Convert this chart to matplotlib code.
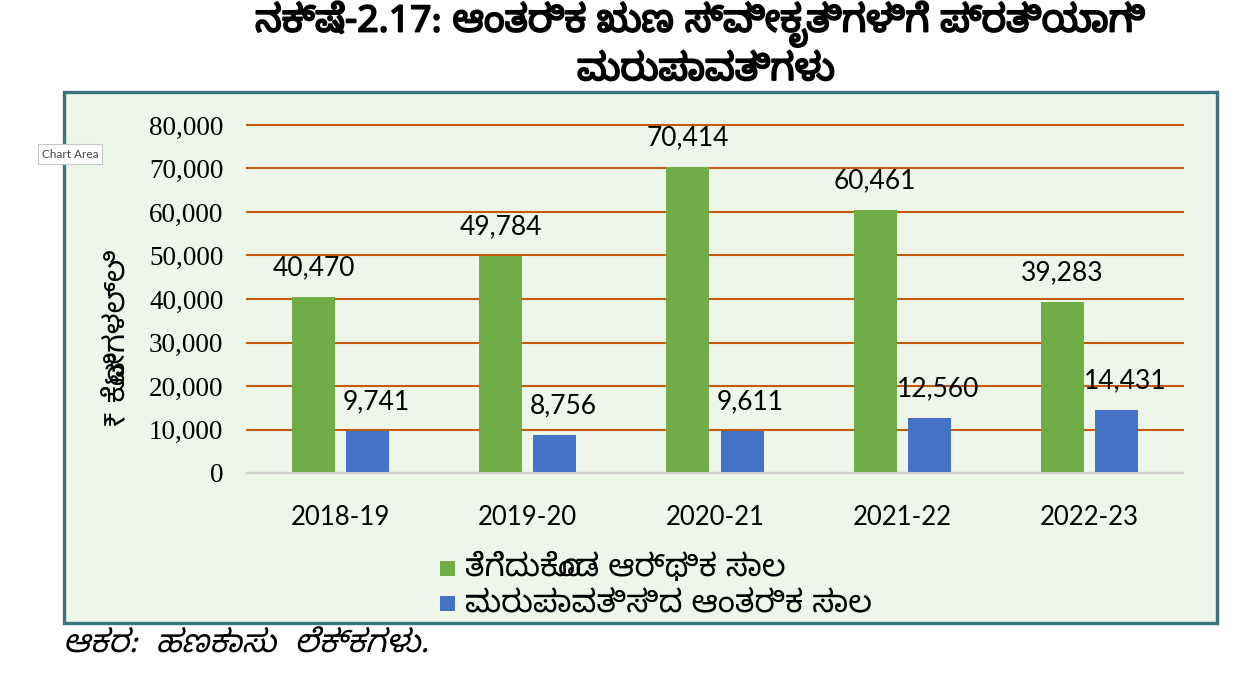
import matplotlib
matplotlib.use("Agg")
import matplotlib.pyplot as plt
import matplotlib.patheffects as pe
import matplotlib.transforms as mtransforms
from matplotlib.patches import Rectangle, PathPatch
from matplotlib.textpath import TextPath
from matplotlib.font_manager import FontProperties
import numpy as np

# Data
years = ["2018-19", "2019-20", "2020-21", "2021-22", "2022-23"]
borrowed = [40470, 49784, 70414, 60461, 39283]
repaid = [9741, 8756, 9611, 12560, 14431]
y_ticks = [0, 10000, 20000, 30000, 40000, 50000, 60000, 70000, 80000]

title_1 = "ನಕ್ಷೆ-2.17: ಆಂತರಿಕ ಋಣ ಸ್ವೀಕೃತಿಗಳಿಗೆ ಪ್ರತಿಯಾಗಿ"
title_2 = "ಮರುಪಾವತಿಗಳು"
y_label = "₹ ಕೋಟಿಗಳಲ್ಲಿ"
legend_labels = ["ತೆಗೆದುಕೊಂಡ ಆರ್ಥಿಕ ಸಾಲ", "ಮರುಪಾವತಿಸಿದ ಆಂತರಿಕ ಸಾಲ"]
source = "ಆಕರ:  ಹಣಕಾಸು  ಲೆಕ್ಕಗಳು."

kn = ["Noto Sans Kannada", "Lato", "DejaVu Sans"]

green = "#70AD47"
blue = "#4472C4"
grid_c = "#C55A11"
bg = "#EEF5E9"

W, H = 1241, 679
fig = plt.figure(figsize=(W / 100, H / 100), dpi=100)
fig.patch.set_facecolor("white")


def fx(px):
    return px / W


def fy(py):
    # pixel row from the top -> figure fraction
    return 1 - py / H


# chart area frame, drawn behind the axes
frame = Rectangle((fx(64), fy(623)), fx(1153), 531 / H, transform=fig.transFigure,
                  facecolor=bg, edgecolor="#3A7480", linewidth=2.4, zorder=-1)
fig.patches.append(frame)

ax = fig.add_axes([fx(247), fy(473), fx(936), 348 / H])
ax.set_facecolor("none")

x = np.arange(len(years))
w = 0.23
off = 0.145
b1 = ax.bar(x - off, borrowed, w, color=green, zorder=3)
b2 = ax.bar(x + off, repaid, w, color=blue, zorder=3)

for xi, v in zip(x, borrowed):
    ax.annotate(f"{v:,}", (xi - off, v), xytext=(0, 21), textcoords="offset points",
                ha="center", va="center", fontsize=19, family="Lato")
for xi, v in zip(x, repaid):
    ax.annotate(f"{v:,}", (xi + off, v), xytext=(6, 21), textcoords="offset points",
                ha="center", va="center", fontsize=19, family="Lato")

ax.set_xlim(-0.5, len(years) - 0.5)
ax.set_ylim(0, 80000)
ax.set_yticks(y_ticks)
ax.set_yticklabels([f"{t:,}" for t in y_ticks], family="Liberation Serif", fontsize=19.5)
ax.set_xticks(x)
ax.set_xticklabels(years, family="Lato", fontsize=18.5)
ax.tick_params(length=0)
ax.tick_params(axis="x", pad=23)
ax.tick_params(axis="y", pad=17)
ax.grid(axis="y", color=grid_c, linewidth=1.5, zorder=1)
for gl in ax.yaxis.get_gridlines():
    gl.set_clip_on(False)
ax.set_axisbelow(True)
for s in ["top", "right", "left"]:
    ax.spines[s].set_visible(False)
ax.spines["bottom"].set_color("#D0D0D0")
ax.spines["bottom"].set_linewidth(1.5)
ax.spines["bottom"].set_zorder(4)

fig.text(fx(117), fy(338), y_label, rotation=90, ha="center", va="center",
         fontsize=21, family=kn)

# title (no bold Kannada face installed, so thicken with a stroke)
bold = [pe.withStroke(linewidth=1.3, foreground="black")]
fig.text(fx(700), fy(24), title_1, ha="center", va="center", fontsize=27,
         fontweight="bold", family=kn, path_effects=bold)
fig.text(fx(706), fy(70), title_2, ha="center", va="center", fontsize=27,
         fontweight="bold", family=kn, path_effects=bold)

# legend, laid out by hand to keep the rows tight
for i, (lab, col) in enumerate(zip(legend_labels, [green, blue])):
    yc = 568 + 35 * i
    fig.patches.append(Rectangle((fx(440), fy(yc + 8)), fx(15), 15 / H,
                                 transform=fig.transFigure, facecolor=col,
                                 edgecolor="none"))
    fig.text(fx(465), fy(yc), lab, ha="left", va="center", fontsize=22.5, family=kn)

# italic source line: shear the text outline since the font has no italic face
fp = FontProperties(family="Noto Sans Kannada", size=23)
tp = TextPath((0, 0), source, prop=fp)
src_tr = (mtransforms.Affine2D().skew_deg(14, 0).translate(63 * 0.72, (H - 652) * 0.72)
          .scale(1 / 72) + fig.dpi_scale_trans)
fig.add_artist(PathPatch(tp, transform=src_tr, facecolor="black", edgecolor="none"))

fig.text(fx(70), fy(154), "Chart Area", ha="center", va="center", fontsize=8.5,
         family="Lato", color="#444444",
         bbox=dict(boxstyle="square,pad=0.35", facecolor="white", edgecolor="#C8C8C8",
                   linewidth=0.8))

fig.savefig("out.png", dpi=100)
